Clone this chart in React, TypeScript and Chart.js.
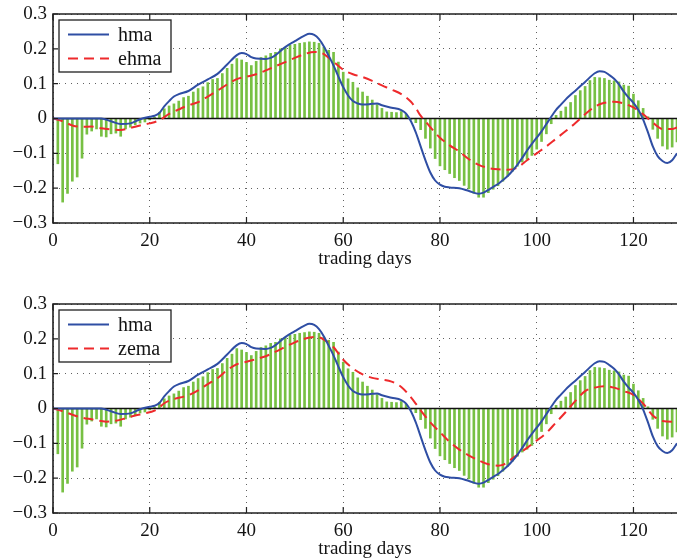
import React, { useEffect, useRef } from 'react';
import { Chart, registerables } from 'chart.js';

Chart.register(...registerables);

// Green stems: one value per trading day 0..129
const STEMS = [
  0, -0.13, -0.24, -0.215, -0.18, -0.168, -0.114, -0.045, -0.036, -0.03,
  -0.051, -0.053, -0.044, -0.042, -0.051, -0.03, -0.025, -0.018, -0.013, -0.01,
  -0.004, 0.004, 0.018, 0.028, 0.036, 0.042, 0.05, 0.06, 0.064, 0.076,
  0.086, 0.091, 0.103, 0.112, 0.115, 0.129, 0.144, 0.156, 0.172, 0.168,
  0.161, 0.152, 0.164, 0.175, 0.18, 0.187, 0.19, 0.2, 0.204, 0.21,
  0.213, 0.216, 0.218, 0.22, 0.219, 0.216, 0.205, 0.196, 0.19, 0.162,
  0.133, 0.114, 0.104, 0.088, 0.076, 0.064, 0.053, 0.04, 0.029, 0.019,
  0.018, 0.017, 0.02, 0.012, -0.003, -0.012, -0.032, -0.057, -0.085, -0.115,
  -0.136, -0.147, -0.158, -0.17, -0.178, -0.192, -0.202, -0.215, -0.226, -0.226,
  -0.213, -0.203, -0.193, -0.18, -0.166, -0.151, -0.137, -0.125, -0.117, -0.106,
  -0.088, -0.066, -0.044, -0.015, 0.009, 0.021, 0.033, 0.046, 0.066, 0.08,
  0.092, 0.109, 0.118, 0.117, 0.115, 0.11, 0.108, 0.105, 0.096, 0.093,
  0.07, 0.051, 0.029, 0.005, -0.031, -0.057, -0.079, -0.088, -0.082, -0.067,
];

// hma line (read at these days)
const HMA_DAYS = [0, 4, 8, 10, 12, 14, 16, 18, 20, 21, 22, 23, 24, 25, 26, 28, 30, 32, 34, 36, 38, 39, 40, 41, 42, 44, 45, 46, 48, 50, 52, 53, 54, 55, 56, 57, 58, 59, 60, 61, 62, 63, 64, 66, 67, 68, 70, 72, 73, 74, 75, 76, 77, 78, 79, 80, 81, 82, 84, 86, 88, 89, 90, 91, 92, 93, 94, 95, 96, 97, 98, 99, 100, 101, 102, 103, 104, 105, 106, 107, 108, 110, 112, 113, 114, 115, 116, 117, 118, 119, 120, 121, 122, 123, 124, 125, 126, 127, 128, 129];
const HMA = [0, 0, 0, 0, -0.008, -0.016, -0.014, -0.002, 0.005, 0.008, 0.016, 0.035, 0.05, 0.063, 0.07, 0.079, 0.097, 0.112, 0.128, 0.155, 0.182, 0.188, 0.185, 0.176, 0.172, 0.171, 0.174, 0.182, 0.205, 0.222, 0.238, 0.243, 0.24, 0.228, 0.207, 0.18, 0.152, 0.12, 0.09, 0.066, 0.05, 0.043, 0.04, 0.042, 0.043, 0.038, 0.031, 0.024, 0.014, -0.008, -0.04, -0.08, -0.12, -0.155, -0.178, -0.19, -0.196, -0.198, -0.2, -0.208, -0.216, -0.213, -0.205, -0.196, -0.188, -0.177, -0.165, -0.15, -0.133, -0.113, -0.092, -0.073, -0.055, -0.037, -0.016, 0.005, 0.025, 0.04, 0.055, 0.068, 0.08, 0.105, 0.13, 0.136, 0.134, 0.125, 0.114, 0.098, 0.077, 0.06, 0.045, 0.025, -0.003, -0.04, -0.08, -0.108, -0.122, -0.128, -0.12, -0.1];

// ehma line (top panel)
const EHMA_DAYS = [0, 2, 4, 6, 8, 10, 12, 14, 16, 18, 20, 22, 24, 26, 28, 30, 32, 34, 36, 38, 40, 42, 44, 46, 48, 50, 52, 54, 55, 56, 58, 60, 62, 64, 66, 68, 70, 72, 74, 75, 76, 77, 78, 80, 82, 84, 86, 88, 90, 92, 94, 96, 98, 100, 102, 104, 106, 108, 110, 112, 114, 116, 118, 120, 122, 124, 126, 128, 129];
const EHMA = [0, -0.008, -0.02, -0.024, -0.023, -0.028, -0.031, -0.033, -0.027, -0.02, -0.014, -0.005, 0.013, 0.026, 0.038, 0.047, 0.063, 0.08, 0.098, 0.113, 0.12, 0.127, 0.138, 0.15, 0.162, 0.174, 0.185, 0.191, 0.19, 0.185, 0.163, 0.14, 0.127, 0.119, 0.108, 0.095, 0.083, 0.07, 0.048, 0.03, 0.008, -0.008, -0.025, -0.055, -0.077, -0.095, -0.117, -0.133, -0.142, -0.146, -0.147, -0.141, -0.12, -0.1, -0.08, -0.058, -0.036, -0.013, 0.012, 0.034, 0.045, 0.048, 0.043, 0.032, 0.012, -0.012, -0.03, -0.03, -0.026];

// zema line (bottom panel)
const ZEMA_DAYS = [0, 2, 4, 6, 8, 10, 11, 13, 15, 17, 19, 21, 22, 23, 25, 27, 28, 30, 32, 34, 36, 38, 40, 42, 44, 46, 48, 50, 52, 54, 55, 56, 58, 60, 62, 64, 66, 68, 70, 72, 74, 75, 76, 78, 80, 82, 84, 86, 88, 90, 92, 93, 94, 96, 98, 100, 102, 104, 106, 108, 110, 112, 114, 116, 118, 120, 122, 124, 126, 128, 129];
const ZEMA = [0, -0.008, -0.018, -0.026, -0.031, -0.036, -0.038, -0.035, -0.028, -0.02, -0.014, -0.006, 0.003, 0.015, 0.027, 0.034, 0.038, 0.052, 0.07, 0.087, 0.11, 0.127, 0.134, 0.142, 0.15, 0.163, 0.177, 0.19, 0.2, 0.205, 0.204, 0.198, 0.176, 0.14, 0.115, 0.098, 0.088, 0.083, 0.077, 0.062, 0.032, 0.014, -0.005, -0.04, -0.068, -0.096, -0.118, -0.135, -0.149, -0.16, -0.164, -0.162, -0.153, -0.133, -0.113, -0.092, -0.07, -0.04, -0.01, 0.022, 0.05, 0.06, 0.064, 0.06, 0.05, 0.039, 0.014, -0.02, -0.036, -0.038, -0.038];

const X_TICKS = [0, 20, 40, 60, 80, 100, 120];
const Y_TICKS = [-0.3, -0.2, -0.1, 0, 0.1, 0.2, 0.3];
const X_TITLE = 'trading days';

const FONT = '"Liberation Serif", "Times New Roman", serif';
const TEXT = '#141414';
const FRAME = '#202020';
const BLUE = '#2f4ea4';
const RED = '#ee2a2c';
const GREEN = '#77c043';

function fmtY(v: number) {
  const r = Math.round(v * 10) / 10;
  if (Math.abs(r) < 1e-9) return '0';
  return (r < 0 ? '\u2212' : '') + Math.abs(r).toFixed(1);
}

const framePlugin = {
  id: 'frameTicks',
  afterDatasetDraw(chart: any, args: any) {
    if (args.index !== 2) return;
    const { ctx, chartArea } = chart;
    const y0 = chart.scales.y.getPixelForValue(0);
    ctx.save();
    ctx.strokeStyle = '#111';
    ctx.lineWidth = 1.5;
    ctx.beginPath();
    ctx.moveTo(chartArea.left, y0);
    ctx.lineTo(chartArea.right, y0);
    ctx.stroke();
    ctx.restore();
  },
  afterDraw(chart: any) {
    const { ctx, chartArea } = chart;
    const { left, right, top, bottom } = chartArea;
    const xs = chart.scales.x;
    const ys = chart.scales.y;
    ctx.save();
    ctx.strokeStyle = FRAME;
    ctx.lineWidth = 1.6;
    ctx.beginPath();
    ctx.moveTo(right + 2, top);
    ctx.lineTo(left, top);
    ctx.lineTo(left, bottom);
    ctx.lineTo(right + 2, bottom);
    ctx.stroke();
    ctx.lineWidth = 1.2;
    ctx.beginPath();
    X_TICKS.forEach((t) => {
      const px = xs.getPixelForValue(t);
      ctx.moveTo(px, bottom);
      ctx.lineTo(px, bottom - 6);
      ctx.moveTo(px, top);
      ctx.lineTo(px, top + 6);
    });
    Y_TICKS.forEach((t) => {
      const py = ys.getPixelForValue(t);
      ctx.moveTo(left, py);
      ctx.lineTo(left + 5, py);
    });
    ctx.stroke();

    // legend box
    const lx = left + 6;
    const ly = top + 6;
    const lw = 112;
    const lh = 52;
    ctx.fillStyle = '#ffffff';
    ctx.fillRect(lx, ly, lw, lh);
    ctx.strokeStyle = FRAME;
    ctx.lineWidth = 1.3;
    ctx.strokeRect(lx, ly, lw, lh);
    const dsets = chart.data.datasets.slice(0, 2);
    dsets.forEach((ds: any, i: number) => {
      const ry = ly + 14.5 + i * 24;
      ctx.strokeStyle = ds.borderColor;
      ctx.lineWidth = ds.borderWidth;
      ctx.setLineDash(ds.borderDash || []);
      ctx.beginPath();
      ctx.moveTo(lx + 9, ry);
      ctx.lineTo(lx + 50, ry);
      ctx.stroke();
      ctx.setLineDash([]);
      ctx.fillStyle = TEXT;
      ctx.font = `20px ${FONT}`;
      ctx.textBaseline = 'middle';
      ctx.textAlign = 'left';
      ctx.fillText(ds.label, lx + 59, ry + 1);
    });
    ctx.restore();
  },
};

function makeConfig(secondLabel: string, days: number[], vals: number[]): any {
  const tickFont = { family: FONT, size: 19 };
  const gridCommon = {
    color: 'rgba(30,30,30,0.7)',
    lineWidth: 1,
    drawTicks: false,
    offset: false,
  };
  return {
    type: 'bar',
    data: {
      datasets: [
        {
          type: 'line',
          label: 'hma',
          data: HMA_DAYS.map((d, i) => ({ x: d, y: HMA[i] })),
          borderColor: BLUE,
          borderWidth: 2,
          pointRadius: 0,
          cubicInterpolationMode: 'monotone',
          order: 1,
        },
        {
          type: 'line',
          label: secondLabel,
          data: days.map((d, i) => ({ x: d, y: vals[i] })),
          borderColor: RED,
          borderWidth: 2,
          borderDash: [10, 6],
          pointRadius: 0,
          cubicInterpolationMode: 'monotone',
          order: 2,
        },
        {
          type: 'bar',
          label: 'stems',
          data: STEMS.map((v, i) => ({ x: i, y: v })),
          backgroundColor: GREEN,
          barThickness: 2,
          order: 3,
        },
      ],
    },
    options: {
      animation: false,
      responsive: false,
      maintainAspectRatio: false,
      events: [],
      layout: { padding: { top: 14, left: 0, right: 0, bottom: 0 } },
      plugins: { legend: { display: false }, tooltip: { enabled: false } },
      scales: {
        x: {
          type: 'linear',
          min: 0,
          max: 129,
          offset: false,
          afterBuildTicks(s: any) {
            s.ticks = X_TICKS.map((v) => ({ value: v }));
          },
          ticks: {
            font: tickFont,
            color: TEXT,
            padding: 7,
            maxRotation: 0,
            autoSkip: false,
            callback: (v: number) => String(v),
          },
          grid: gridCommon,
          border: { display: false, dash: [1, 5] },
          title: {
            display: true,
            text: X_TITLE,
            font: tickFont,
            color: TEXT,
            padding: { top: 0, bottom: 0 },
          },
          afterFit(s: any) {
            s.height = 47;
            s.paddingLeft = 0;
            s.paddingRight = 0;
          },
        },
        y: {
          min: -0.3,
          max: 0.3,
          afterBuildTicks(s: any) {
            s.ticks = Y_TICKS.map((v) => ({ value: v }));
          },
          ticks: {
            font: tickFont,
            color: TEXT,
            padding: 6,
            callback: (v: number) => fmtY(v),
          },
          grid: gridCommon,
          border: { display: false, dash: [1, 5] },
          afterFit(s: any) {
            s.width = 53;
            s.paddingTop = 0;
            s.paddingBottom = 0;
          },
        },
      },
    },
    plugins: [framePlugin],
  };
}

function Panel({ top, label, days, vals }: { top: number; label: string; days: number[]; vals: number[] }) {
  const ref = useRef<HTMLCanvasElement | null>(null);
  useEffect(() => {
    if (!ref.current) return;
    const chart = new Chart(ref.current, makeConfig(label, days, vals));
    return () => chart.destroy();
  }, [label, days, vals]);
  return (
    <canvas
      ref={ref}
      width={677}
      height={270}
      style={{ position: 'absolute', left: 0, top, width: 677, height: 270 }}
    />
  );
}

export default function App() {
  return (
    <div
      style={{
        position: 'fixed',
        left: 0,
        top: 0,
        width: 677,
        height: 560,
        background: '#ffffff',
        overflow: 'hidden',
      }}
    >
      <Panel top={0} label="ehma" days={EHMA_DAYS} vals={EHMA} />
      <Panel top={290} label="zema" days={ZEMA_DAYS} vals={ZEMA} />
    </div>
  );
}
